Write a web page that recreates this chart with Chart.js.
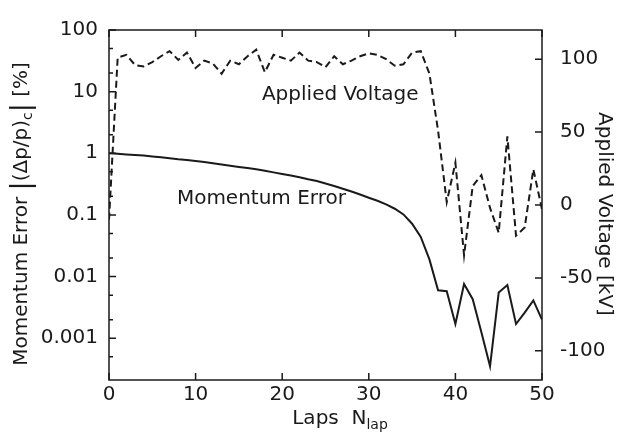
<!DOCTYPE html>
<html>
<head>
<meta charset="utf-8">
<script src="https://cdn.jsdelivr.net/npm/chart.js@4.4.0/dist/chart.umd.min.js"></script>
<style>
html, body { margin: 0; padding: 0; background: #fff; }
</style>
</head>
<body>
<canvas id="c" width="623" height="436"></canvas>
<script>
// data
var laps = [0, 1, 2, 3, 4, 5, 6, 7, 8, 9, 10, 11, 12, 13, 14, 15, 16, 17, 18, 19, 20,
    21, 22, 23, 24, 25, 26, 27, 28, 29, 30, 31, 32, 33, 34, 35, 36, 37, 38, 39, 40,
    41, 42, 43, 44, 45, 46, 47, 48, 49, 50];
var momentumError = [1.0, 0.98, 0.96, 0.94, 0.92, 0.89, 0.86, 0.83, 0.80, 0.78, 0.75,
    0.72, 0.69, 0.66, 0.63, 0.60, 0.575, 0.55, 0.52, 0.49, 0.46,
    0.435, 0.41, 0.38, 0.355, 0.324, 0.295, 0.266, 0.24, 0.214, 0.19,
    0.17, 0.148, 0.126, 0.102, 0.072, 0.044, 0.019, 0.006, 0.0058, 0.0017,
    0.0076, 0.0043, 0.00125, 0.00035, 0.0055, 0.0073, 0.0017, 0.0026, 0.0041, 0.002];
var appliedVoltage = [-10, 101, 103, 96, 95, 98, 102, 105.5, 99.5, 104.5, 94,
    99, 97, 90, 99, 96.5, 102, 106.5, 91, 103, 101,
    99, 104.5, 99, 98, 94.5, 102, 96.5, 99, 102, 104,
    103, 100, 95.5, 96.5, 104.5, 105.5, 90, 51, 2, 29,
    -34.5, 13, 20.5, -2, -19, 47, -21, -15.5, 24.5, -3];

var lapTicks = [0, 10, 20, 30, 40, 50];
var errorTicks = [0.001, 0.01, 0.1, 1, 10, 100];
var errorTickLabels = ['0.001', '0.01', '0.1', '1', '10', '100'];
var voltageTicks = [-100, -50, 0, 50, 100];

var ink = '#1a1a1a';
var face = '"DejaVu Sans", Verdana, sans-serif';
var fontSize = 20;

function points(xs, ys) {
    return xs.map(function (x, i) { return {x: x, y: ys[i]}; });
}

// draws a run of text pieces (for subscripts), centred on cx,cy
function drawParts(ctx, parts, cx, cy, angle) {
    ctx.save();
    ctx.translate(cx, cy);
    ctx.rotate(angle);
    ctx.textBaseline = 'middle';
    ctx.textAlign = 'left';
    ctx.fillStyle = ink;
    var total = 0;
    parts.forEach(function (p) {
        ctx.font = p.size + 'px ' + face;
        p.w = ctx.measureText(p.text).width;
        total += p.w;
    });
    var x = -total / 2;
    parts.forEach(function (p) {
        ctx.font = p.size + 'px ' + face;
        ctx.fillText(p.text, x, p.dy || 0);
        x += p.w;
    });
    ctx.restore();
}

var frameAndText = {
    id: 'frameAndText',
    afterDraw: function (chart) {
        var ctx = chart.ctx, a = chart.chartArea;
        var sx = chart.scales.x, sl = chart.scales.yL, sr = chart.scales.yR;
        ctx.save();
        ctx.strokeStyle = ink;
        ctx.lineWidth = 1.5;
        ctx.strokeRect(a.left, a.top, a.right - a.left, a.bottom - a.top);

        // inward ticks
        ctx.beginPath();
        lapTicks.forEach(function (v) {
            var px = sx.getPixelForValue(v);
            ctx.moveTo(px, a.bottom); ctx.lineTo(px, a.bottom - 7);
            ctx.moveTo(px, a.top); ctx.lineTo(px, a.top + 7);
        });
        errorTicks.forEach(function (v) {
            var py = sl.getPixelForValue(v);
            ctx.moveTo(a.left, py); ctx.lineTo(a.left + 7, py);
        });
        [0.0002, 0.0005, 0.002, 0.005, 0.02, 0.05, 0.2, 0.5, 2, 5, 20, 50].forEach(function (v) {
            if (v < sl.min || v > sl.max) return;
            var py = sl.getPixelForValue(v);
            ctx.moveTo(a.left, py); ctx.lineTo(a.left + 4, py);
        });
        voltageTicks.forEach(function (v) {
            var py = sr.getPixelForValue(v);
            ctx.moveTo(a.right, py); ctx.lineTo(a.right - 7, py);
        });
        ctx.stroke();
        ctx.restore();

        // in-plot labels
        drawParts(ctx, [{text: 'Applied Voltage', size: fontSize}],
            sx.getPixelForValue(26.7), sr.getPixelForValue(75.5), 0);
        drawParts(ctx, [{text: 'Momentum Error', size: fontSize}],
            sx.getPixelForValue(17.6), sl.getPixelForValue(0.18), 0);

        // axis titles
        drawParts(ctx, [
            {text: 'Momentum Error ', size: fontSize},
            {text: '|', size: 27},
            {text: '(Δp/p)', size: fontSize},
            {text: 'c', size: 14, dy: 6},
            {text: '|', size: 27},
            {text: ' [%]', size: fontSize}
        ], 22, 214, -Math.PI / 2);
        drawParts(ctx, [{text: 'Applied Voltage [kV]', size: fontSize}], 604, 214, Math.PI / 2);
        drawParts(ctx, [
            {text: 'Laps  N', size: fontSize},
            {text: 'lap', size: 14, dy: 6}
        ], 340, 419, 0);
    }
};

var tickFont = {family: face, size: fontSize};

new Chart(document.getElementById('c'), {
    type: 'line',
    data: {
        datasets: [{
            label: 'Momentum Error',
            data: points(laps, momentumError),
            yAxisID: 'yL',
            borderColor: ink,
            borderWidth: 2,
            pointRadius: 0,
            tension: 0
        }, {
            label: 'Applied Voltage',
            data: points(laps, appliedVoltage),
            yAxisID: 'yR',
            borderColor: ink,
            borderWidth: 2,
            borderDash: [7, 4],
            pointRadius: 0,
            tension: 0
        }]
    },
    options: {
        responsive: false,
        animation: false,
        layout: {padding: {top: 22, left: 0, right: 0, bottom: 0}},
        plugins: {legend: {display: false}, tooltip: {enabled: false}},
        scales: {
            x: {
                type: 'linear', min: 0, max: 50,
                afterBuildTicks: function (s) { s.ticks = lapTicks.map(function (v) { return {value: v}; }); },
                afterFit: function (s) { s.height = 56; },
                grid: {display: false, drawTicks: false},
                border: {display: false},
                ticks: {padding: 3, font: tickFont, color: ink, maxRotation: 0, autoSkip: false}
            },
            yL: {
                type: 'logarithmic', position: 'left', min: 0.00021, max: 100,
                afterBuildTicks: function (s) { s.ticks = errorTicks.map(function (v) { return {value: v}; }); },
                afterFit: function (s) { s.width = 109; },
                grid: {display: false, drawTicks: false},
                border: {display: false},
                ticks: {
                    padding: 11, font: tickFont, color: ink, autoSkip: false,
                    callback: function (v) {
                        var i = errorTicks.indexOf(v);
                        return i < 0 ? '' : errorTickLabels[i];
                    }
                }
            },
            yR: {
                type: 'linear', position: 'right', min: -120, max: 120,
                afterBuildTicks: function (s) { s.ticks = voltageTicks.map(function (v) { return {value: v}; }); },
                afterFit: function (s) { s.width = 81; },
                grid: {display: false, drawTicks: false},
                border: {display: false},
                ticks: {padding: 18, font: tickFont, color: ink, autoSkip: false}
            }
        }
    },
    plugins: [frameAndText]
});
</script>
</body>
</html>
